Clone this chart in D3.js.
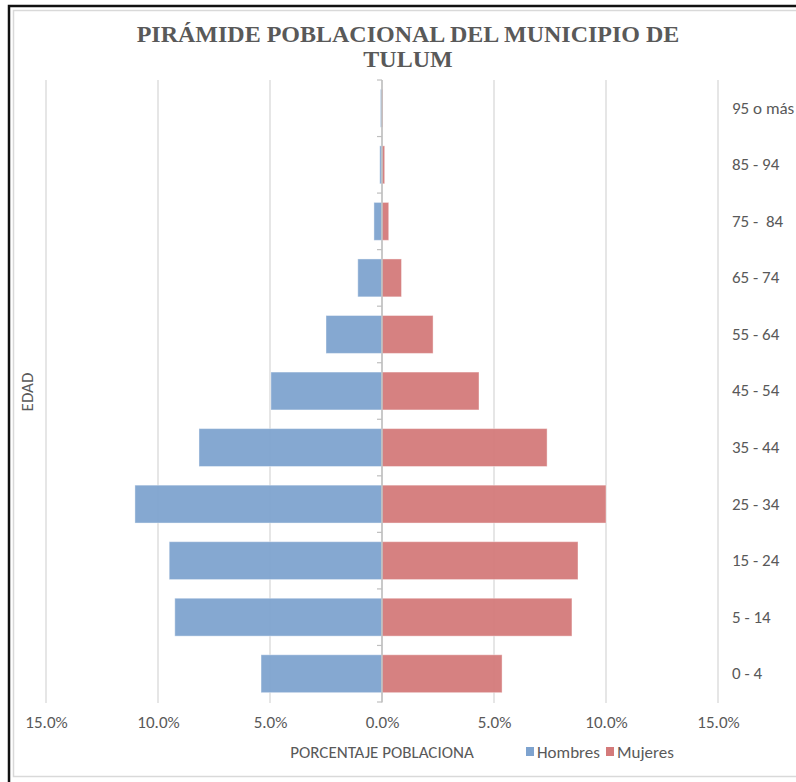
<!DOCTYPE html>
<html>
<head>
<meta charset="utf-8">
<script src="https://cdn.jsdelivr.net/npm/d3@7"></script>
<style>
  body { margin: 0; background: #fff; }
  svg { display: block; }
  text { white-space: pre; }
</style>
</head>
<body>
<svg id="chart" width="796" height="782"></svg>
<script>
// age groups, bottom to top
const ageGroups = ["0 - 4", "5 - 14", "15 - 24", "25 - 34", "35 - 44", "45 - 54",
  "55 - 64", "65 - 74", "75 -  84", "85 - 94", "95 o más"];
// percentages of total population
const hombres = [5.4, 9.25, 9.5, 11.03, 8.17, 4.96, 2.5, 1.08, 0.36, 0.1, 0.07];
const mujeres = [5.36, 8.48, 8.75, 10.0, 7.37, 4.33, 2.28, 0.87, 0.3, 0.12, 0.04];
const xTicks = [-15, -10, -5, 0, 5, 10, 15];
const seriesNames = ["Hombres", "Mujeres"];
const seriesColors = ["#7ea3cf", "#d47a7a"];

const svg = d3.select("#chart");
const font = "Carlito, 'Liberation Sans Narrow', sans-serif";
const grey = "#595959";

// frame
svg.append("rect").attr("x", 13.5).attr("y", 10.5).attr("width", 790).attr("height", 766)
  .attr("fill", "none").attr("stroke", "#d9d9d9").attr("stroke-width", 1.5);
svg.append("path").attr("d", "M9,782 V6 H796")
  .attr("fill", "none").attr("stroke", "#111").attr("stroke-width", 2.5);

const x = d3.scaleLinear().domain([-15, 15]).range([46, 718]);
const y = d3.scaleBand().domain(ageGroups).range([702, 80]).paddingInner(0.33).paddingOuter(0.165);

// gridlines
svg.append("g").selectAll("line").data(xTicks).enter().append("line")
  .attr("x1", d => x(d)).attr("x2", d => x(d))
  .attr("y1", 80).attr("y2", 703)
  .attr("stroke", "#d9d9d9").attr("stroke-width", 1.3);

// bars
const rows = ageGroups.map((g, i) => ({ g, h: hombres[i], m: mujeres[i] }));
svg.append("g").selectAll("rect").data(rows).enter().append("rect")
  .attr("x", d => x(-d.h)).attr("width", d => x(0) - x(-d.h))
  .attr("y", d => y(d.g)).attr("height", y.bandwidth())
  .attr("fill", seriesColors[0]).attr("fill-opacity", 0.95)
  .attr("stroke", "#fff").attr("stroke-opacity", 0.4).attr("stroke-width", 1);
svg.append("g").selectAll("rect").data(rows).enter().append("rect")
  .attr("x", x(0)).attr("width", d => x(d.m) - x(0))
  .attr("y", d => y(d.g)).attr("height", y.bandwidth())
  .attr("fill", seriesColors[1]).attr("fill-opacity", 0.95)
  .attr("stroke", "#fff").attr("stroke-opacity", 0.4).attr("stroke-width", 1);

// zero axis with category ticks
const bounds = d3.range(ageGroups.length + 1).map(i => 702 - i * (622 / ageGroups.length));
svg.append("line").attr("x1", x(0)).attr("x2", x(0)).attr("y1", 80).attr("y2", 702)
  .attr("stroke", "#bfbfbf").attr("stroke-width", 1.5);
svg.append("g").selectAll("line").data(bounds).enter().append("line")
  .attr("x1", x(0) - 5).attr("x2", x(0)).attr("y1", d => d).attr("y2", d => d)
  .attr("stroke", "#bfbfbf").attr("stroke-width", 1.2);

// category labels on the right
const yAxis = svg.append("g").attr("transform", "translate(726,0)")
  .call(d3.axisRight(y).tickSize(0).tickPadding(6));
yAxis.select(".domain").remove();
yAxis.selectAll("text").attr("fill", grey).style("font-family", font).style("font-size", "17px");

// x axis labels
const xAxis = svg.append("g").attr("transform", "translate(0,711)")
  .call(d3.axisBottom(x).tickValues(xTicks).tickSize(0).tickPadding(5)
    .tickFormat(d => Math.abs(d).toFixed(1) + "%"));
xAxis.select(".domain").remove();
xAxis.selectAll("text").attr("fill", grey).style("font-family", font).style("font-size", "17px");

// title
const title = svg.append("text").attr("x", 408).attr("text-anchor", "middle")
  .attr("fill", grey).style("font-family", "'Liberation Serif', serif")
  .style("font-weight", "bold").style("font-size", "24px");
title.append("tspan").attr("x", 408).attr("y", 42).text("PIRÁMIDE POBLACIONAL DEL MUNICIPIO DE");
title.append("tspan").attr("x", 408).attr("y", 67).text("TULUM");

// axis titles
svg.append("text").attr("x", 382).attr("y", 758).attr("text-anchor", "middle")
  .attr("fill", grey).style("font-family", font).style("font-size", "17px")
  .text("PORCENTAJE POBLACIONA");
svg.append("text").attr("transform", "translate(33,392) rotate(-90)").attr("text-anchor", "middle")
  .attr("fill", grey).style("font-family", font).style("font-size", "17px")
  .text("EDAD");

// legend
const legend = svg.append("g").selectAll("g").data(seriesNames).enter().append("g")
  .attr("transform", (d, i) => `translate(${526 + i * 80},747)`);
legend.append("rect").attr("width", 8).attr("height", 9).attr("fill", (d, i) => seriesColors[i]);
legend.append("text").attr("x", 11).attr("y", 10.5).attr("fill", grey)
  .style("font-family", font).style("font-size", "17px").text(d => d);
</script>
</body>
</html>
